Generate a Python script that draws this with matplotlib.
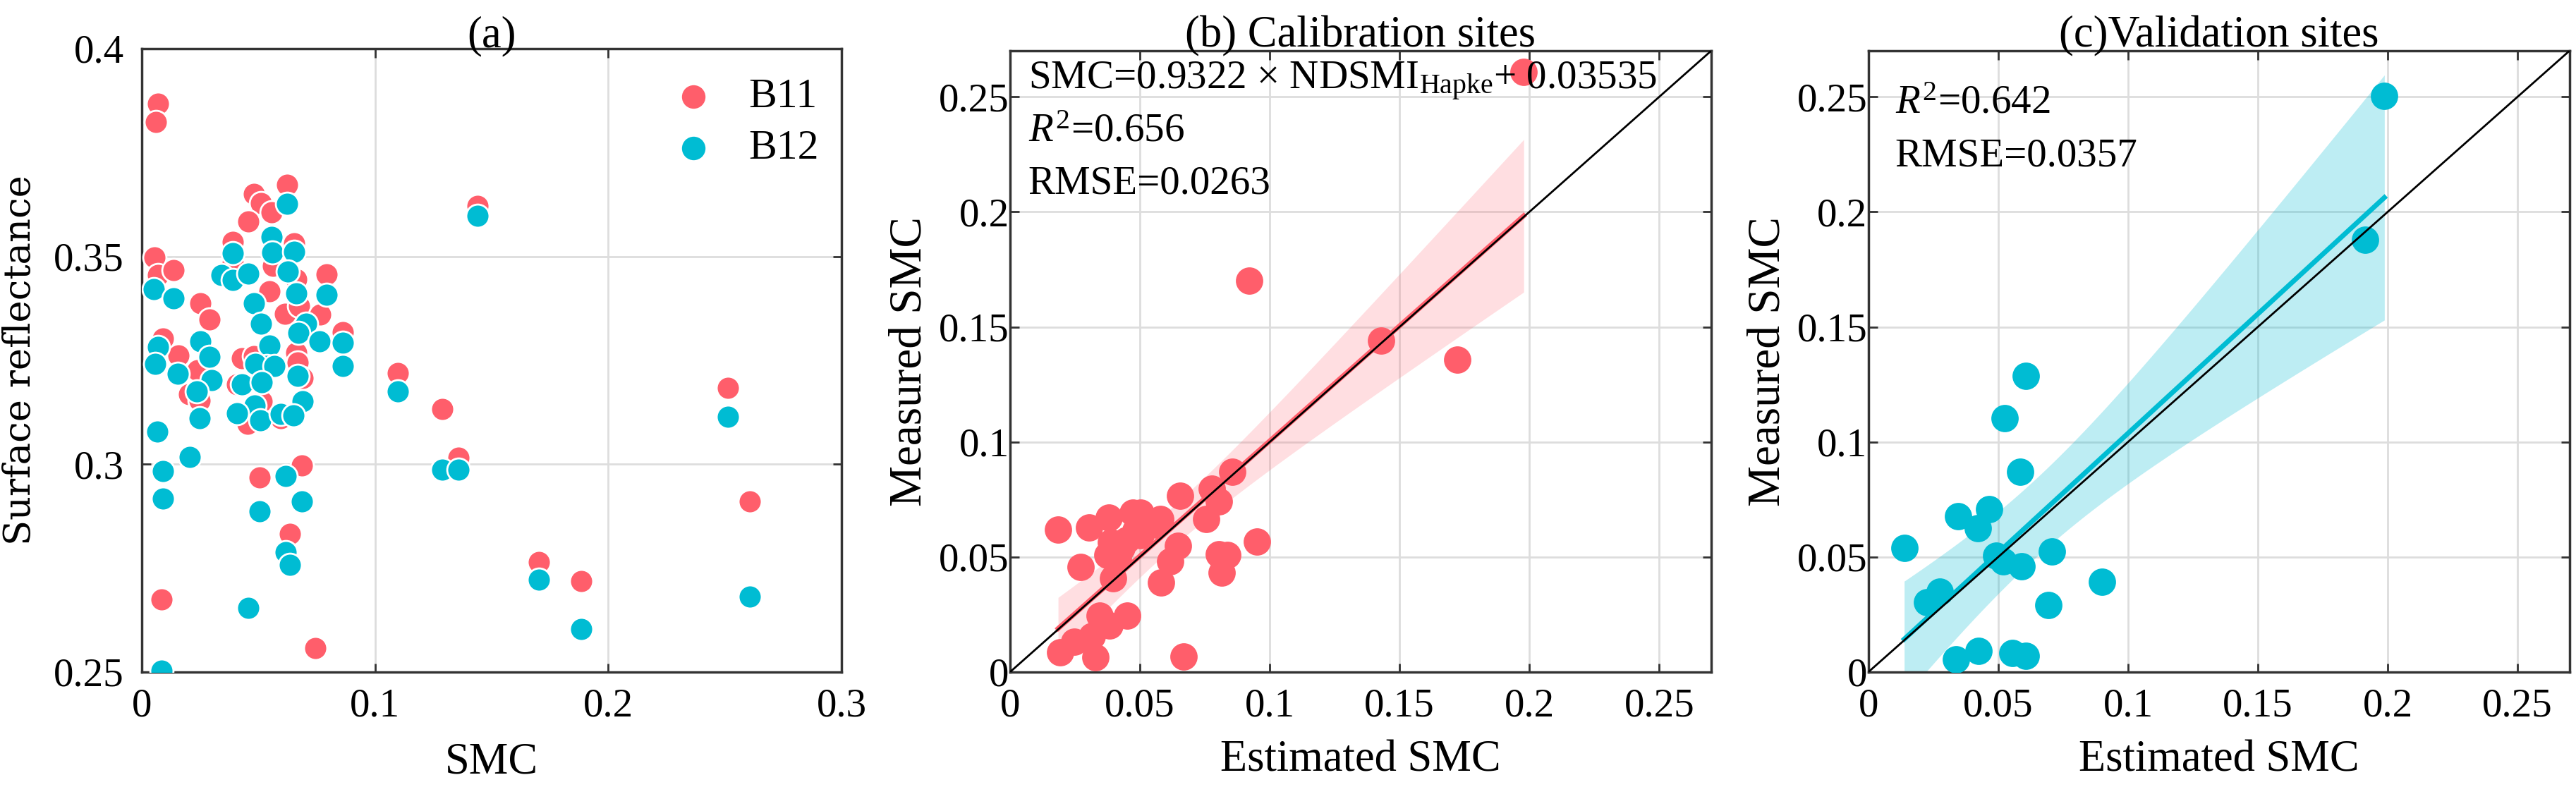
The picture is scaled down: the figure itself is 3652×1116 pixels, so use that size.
import numpy as np
import matplotlib
matplotlib.use('Agg')
import matplotlib.pyplot as plt
from matplotlib.ticker import FormatStrFormatter, FixedLocator

plt.rcParams['font.family'] = ['Liberation Serif', 'DejaVu Serif']
plt.rcParams['mathtext.fontset'] = 'custom'
plt.rcParams['mathtext.rm'] = 'Liberation Serif'
plt.rcParams['mathtext.it'] = 'Liberation Serif:italic'

RED = '#FF5E6B'
CYAN = '#00BCD3'

# (a) surface reflectance vs SMC
b11_smc = [0.0071, 0.0062, 0.0624, 0.0481, 0.0511, 0.0557, 0.0458, 0.1439, 0.0390, 0.0654,
           0.0054, 0.0069, 0.0137, 0.0390, 0.0564, 0.0664, 0.0792, 0.0547, 0.0251, 0.0291,
           0.0614, 0.0674, 0.0764, 0.0090, 0.0157, 0.0238, 0.0430, 0.0480, 0.0664, 0.0669,
           0.0862, 0.1097, 0.0203, 0.0248, 0.0453, 0.0514, 0.0689, 0.0597, 0.0408, 0.1288,
           0.1358, 0.2514, 0.2608, 0.1703, 0.1884, 0.0686, 0.0506, 0.0634, 0.0084, 0.0745]
b11_refl = [0.3868, 0.3823, 0.3673, 0.3651, 0.3628, 0.3606, 0.3585, 0.3621, 0.3535, 0.3532,
            0.3497, 0.3456, 0.3467, 0.3484, 0.3478, 0.3445, 0.3457, 0.3416, 0.3388, 0.3349,
            0.3362, 0.3380, 0.3360, 0.3303, 0.3262, 0.3227, 0.3255, 0.3260, 0.3269, 0.3244,
            0.3318, 0.3219, 0.3168, 0.3154, 0.3097, 0.3151, 0.3207, 0.3111, 0.3193, 0.3133,
            0.3015, 0.3183, 0.2910, 0.2764, 0.2718, 0.2997, 0.2968, 0.2833, 0.2675, 0.2557]

b12_smc = [0.0624, 0.1439, 0.0557, 0.0390, 0.0559, 0.0652, 0.0343, 0.0390, 0.0458, 0.0052,
           0.0137, 0.0626, 0.0664, 0.0792, 0.0481, 0.0511, 0.0706, 0.0671, 0.0762, 0.0862,
           0.0862, 0.0069, 0.0251, 0.0291, 0.0057, 0.0156, 0.0547, 0.0536, 0.0487, 0.0569,
           0.0669, 0.0301, 0.0235, 0.0430, 0.0515, 0.0689, 0.0485, 0.0408, 0.0507, 0.0597,
           0.0649, 0.0248, 0.1097, 0.0067, 0.0206, 0.0092, 0.0090, 0.0616, 0.0686, 0.0506,
           0.0616, 0.0634, 0.0458, 0.0084, 0.2514, 0.1288, 0.1358, 0.2608, 0.1703, 0.1884]
b12_refl = [0.3627, 0.3597, 0.3547, 0.3508, 0.3510, 0.3511, 0.3456, 0.3443, 0.3459, 0.3422,
            0.3400, 0.3464, 0.3411, 0.3408, 0.3388, 0.3338, 0.3338, 0.3316, 0.3295, 0.3293,
            0.3236, 0.3282, 0.3295, 0.3258, 0.3241, 0.3217, 0.3286, 0.3237, 0.3241, 0.3237,
            0.3213, 0.3202, 0.3175, 0.3192, 0.3198, 0.3151, 0.3141, 0.3123, 0.3105, 0.3121,
            0.3118, 0.3110, 0.3176, 0.3079, 0.3017, 0.2984, 0.2918, 0.2971, 0.2911, 0.2887,
            0.2788, 0.2758, 0.2655, 0.2504, 0.3115, 0.2987, 0.2987, 0.2682, 0.2723, 0.2603]

# (b) calibration sites
cal_est = [0.0185, 0.0305, 0.0380, 0.0271, 0.0397, 0.0654, 0.0778, 0.0805, 0.0755, 0.0473,
           0.0502, 0.0579, 0.0565, 0.0484, 0.0502, 0.0447, 0.0388, 0.0429, 0.0375, 0.0416,
           0.0647, 0.0617, 0.0581, 0.0803, 0.0837, 0.0814, 0.0950, 0.0346, 0.0382, 0.0452,
           0.0316, 0.0248, 0.0194, 0.0328, 0.0669, 0.0857, 0.0920, 0.1430, 0.1722, 0.1978]
cal_meas = [0.0620, 0.0627, 0.0671, 0.0457, 0.0406, 0.0766, 0.0798, 0.0742, 0.0666, 0.0691,
            0.0691, 0.0666, 0.0640, 0.0615, 0.0595, 0.0574, 0.0564, 0.0538, 0.0508, 0.0493,
            0.0549, 0.0480, 0.0389, 0.0511, 0.0508, 0.0432, 0.0568, 0.0245, 0.0203, 0.0245,
            0.0157, 0.0133, 0.0086, 0.0065, 0.0068, 0.0870, 0.1702, 0.1439, 0.1357, 0.2609]

# (c) validation sites
val_est = [0.1987, 0.1912, 0.0605, 0.0526, 0.0584, 0.0466, 0.0345, 0.0421, 0.0138, 0.0707,
           0.0491, 0.0518, 0.0591, 0.0899, 0.0276, 0.0226, 0.0694, 0.0425, 0.0338, 0.0555, 0.0605]
val_meas = [0.2504, 0.1880, 0.1287, 0.1104, 0.0870, 0.0709, 0.0678, 0.0626, 0.0538, 0.0525,
            0.0507, 0.0482, 0.0461, 0.0393, 0.0348, 0.0303, 0.0292, 0.0091, 0.0055, 0.0084, 0.0069]

cal_text = ['SMC=0.9322 × NDSMI$_{\\mathrm{Hapke}}$+ 0.03535',
            '$\\mathit{R}^{2}$=0.656', 'RMSE=0.0263']
val_text = ['$\\mathit{R}^{2}$=0.642', 'RMSE=0.0357']


def fit_band(x, y):
    # OLS line with a 95% confidence band for the mean
    x = np.asarray(x)
    y = np.asarray(y)
    n = len(x)
    b1, b0 = np.polyfit(x, y, 1)
    xs = np.linspace(x.min(), x.max(), 200)
    yhat = b0 + b1 * xs
    s = np.sqrt(np.sum((y - (b0 + b1 * x)) ** 2) / (n - 2))
    t = 1.96 + 2.4 / (n - 2)
    se = s * np.sqrt(1 / n + (xs - x.mean()) ** 2 / np.sum((x - x.mean()) ** 2))
    return xs, yhat, yhat - t * se, yhat + t * se


def style_axes(ax):
    ax.tick_params(direction='in', top=True, right=True, length=9, width=2,
                   labelsize=41, color='#333333')
    for sp in ax.spines.values():
        sp.set_linewidth(2.5)
        sp.set_color('#333333')
    ax.grid(True, color='#dddddd', linewidth=2)
    ax.set_axisbelow(True)


fig = plt.figure(figsize=(36.52, 11.16), dpi=100)

# panel (a)
ax1 = fig.add_axes([0.0550, 0.1461, 0.2717, 0.7921])
ax1.scatter(b11_smc, b11_refl, s=560, color=RED, edgecolor='white', linewidth=2, label='B11', zorder=3)
ax1.scatter(b12_smc, b12_refl, s=560, color=CYAN, edgecolor='white', linewidth=2, label='B12', zorder=3)
ax1.set_xlim(0, 0.3)
ax1.set_ylim(0.25, 0.4)
ax1.xaxis.set_major_locator(FixedLocator([0, 0.1, 0.2, 0.3]))
ax1.yaxis.set_major_locator(FixedLocator([0.25, 0.3, 0.35, 0.4]))
ax1.xaxis.set_major_formatter(FormatStrFormatter('%g'))
ax1.yaxis.set_major_formatter(FormatStrFormatter('%g'))
style_axes(ax1)
ax1.tick_params(axis='x', pad=16)
ax1.tick_params(axis='y', pad=18)
ax1.set_xlabel('SMC', fontsize=45, labelpad=18)
ax1.set_ylabel('Surface reflectance', fontsize=38, family='DejaVu Serif', labelpad=16)
ax1.set_title('(a)', fontsize=45, pad=2)
leg = ax1.legend(loc='upper right', bbox_to_anchor=(1.0, 0.99), frameon=False, fontsize=43,
                 handletextpad=0.3, borderaxespad=0.15, labelspacing=0.3, markerscale=1.1)

# panels (b) and (c)
panels = [
    (0.3921, cal_est, cal_meas, RED, 0.2, '(b) Calibration sites', cal_text, 0.026, 0.985),
    (0.7253, val_est, val_meas, CYAN, 0.26, '(c)Validation sites', val_text, 0.038, 0.945),
]
for left, xe, ym, col, alpha, title, lines, tx, ty in panels:
    ax = fig.add_axes([left, 0.1461, 0.2722, 0.7894])
    xs, yhat, lo, hi = fit_band(xe, ym)
    ax.fill_between(xs, lo, hi, color=col, alpha=alpha, linewidth=0, zorder=2)
    ax.scatter(xe, ym, s=780, color=col, linewidth=0, zorder=3)
    ax.plot(xs, yhat, color=col, linewidth=5, zorder=4)
    ax.plot([0, 0.27], [0, 0.27], color='black', linewidth=2, zorder=5)
    ax.set_xlim(0, 0.27)
    ax.set_ylim(0, 0.27)
    ticks = [0, 0.05, 0.1, 0.15, 0.2, 0.25]
    ax.xaxis.set_major_locator(FixedLocator(ticks))
    ax.yaxis.set_major_locator(FixedLocator(ticks))
    ax.xaxis.set_major_formatter(FormatStrFormatter('%g'))
    ax.yaxis.set_major_formatter(FormatStrFormatter('%g'))
    style_axes(ax)
    ax.tick_params(axis='x', pad=16)
    ax.tick_params(axis='y', pad=1)
    ax.set_xlabel('Estimated SMC', fontsize=45, labelpad=16)
    ax.set_ylabel('Measured SMC', fontsize=47, labelpad=8)
    ax.set_title(title, fontsize=45, pad=4)
    for i, txt in enumerate(lines):
        ax.text(tx, ty - i * 0.085, txt, transform=ax.transAxes, fontsize=41,
                va='top', ha='left', zorder=6)

fig.savefig('out.png', dpi=100)
